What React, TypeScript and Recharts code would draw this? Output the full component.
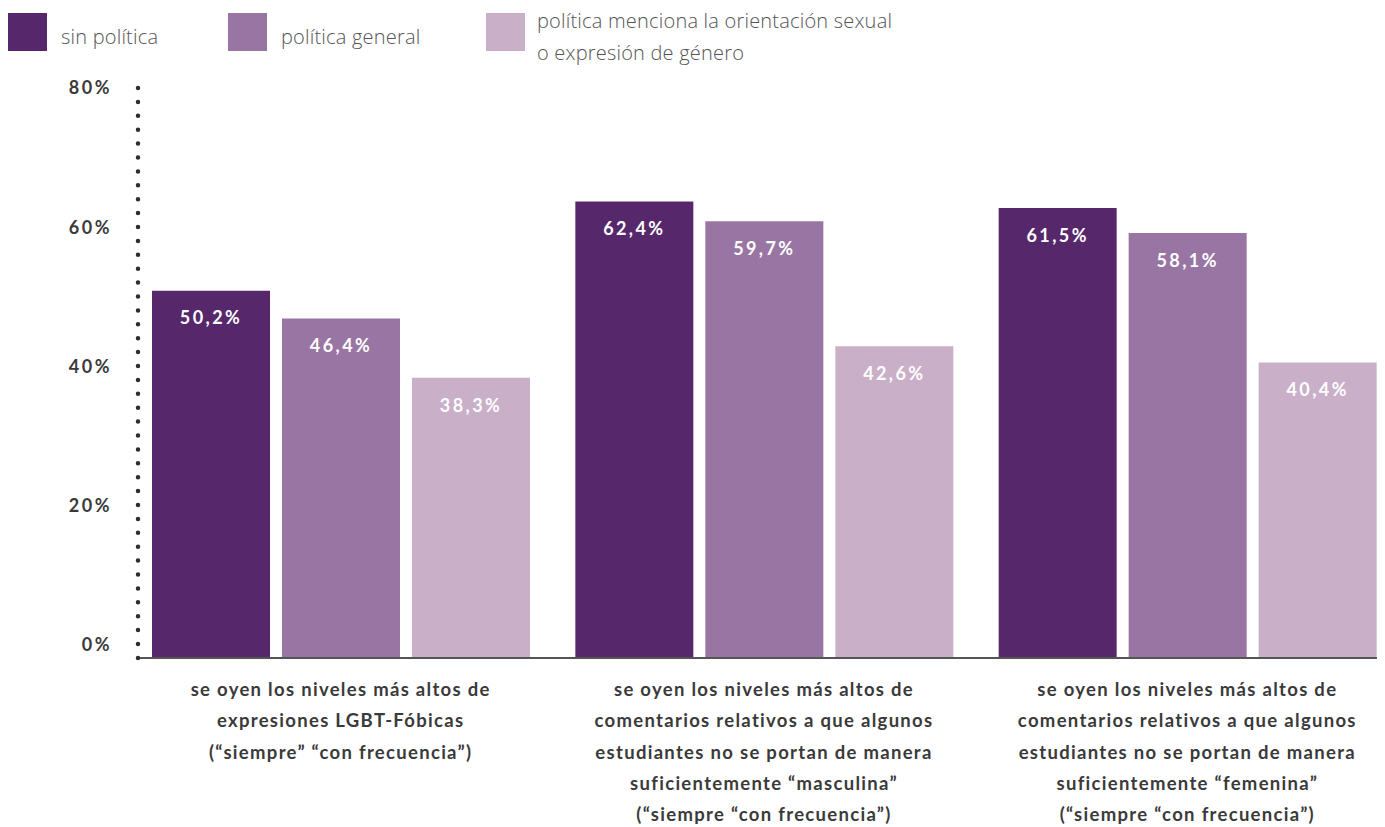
import React from "react";
import { BarChart, Bar, XAxis, YAxis, LabelList } from "recharts";

const categories = [
  "se oyen los niveles más altos de\nexpresiones LGBT-Fóbicas\n(“siempre” “con frecuencia”)",
  "se oyen los niveles más altos de\ncomentarios relativos a que algunos\nestudiantes no se portan de manera\nsuficientemente “masculina”\n(“siempre “con frecuencia”)",
  "se oyen los niveles más altos de\ncomentarios relativos a que algunos\nestudiantes no se portan de manera\nsuficientemente “femenina”\n(“siempre “con frecuencia”)",
];
const sinPolitica = [50.2, 62.4, 61.5];
const politicaGeneral = [46.4, 59.7, 58.1];
const politicaMenciona = [38.3, 42.6, 40.4];
const seriesNames = ["sin política", "política general", "política menciona la orientación sexual\no expresión de género"];
const colors = ["#56286b", "#9975a3", "#c9b0c8"];
const yTicks = [0, 20, 40, 60, 80];

const data = categories.map((c, i) => ({
  cat: c,
  a: sinPolitica[i],
  b: politicaGeneral[i],
  c: politicaMenciona[i],
}));

const FONT = "Lato, 'Open Sans', sans-serif";
const fmt = (v: number) => v.toFixed(1).replace(".", ",") + "%";

const CatTick = (props: any) => {
  const { x, y, payload } = props;
  const lines = String(payload.value).split("\n");
  return (
    <g>
      {lines.map((l: string, i: number) => (
        <text
          key={i}
          x={x}
          y={y + 31 + i * 31.3}
          textAnchor="middle"
          dominantBaseline="central"
          fill="#3a3a3a"
          fontFamily={FONT}
          fontWeight={700}
          fontSize={18.5}
          letterSpacing={1.3}
        >
          {l}
        </text>
      ))}
    </g>
  );
};

const legendPos = [
  { sq: 0, text: 53 },
  { sq: 220, text: 273 },
  { sq: 478, text: 529 },
];

export default function App() {
  return (
    <div style={{ position: "relative", width: 1369, height: 819, overflow: "hidden" }}>
      {seriesNames.map((n, i) => {
        const lines = n.split("\n");
        return (
          <React.Fragment key={i}>
            <div
              style={{
                position: "absolute",
                left: legendPos[i].sq,
                top: 5,
                width: 39,
                height: 38,
                background: colors[i],
              }}
            />
            <div
              style={{
                position: "absolute",
                left: legendPos[i].text,
                top: lines.length > 1 ? -3 : 13,
                fontFamily: "'Open Sans', sans-serif",
                fontWeight: 300,
                fontSize: 20,
                letterSpacing: 0.2,
                lineHeight: "32px",
                color: "#555",
                whiteSpace: "pre",
              }}
            >
              {n}
            </div>
          </React.Fragment>
        );
      })}
      <div style={{ position: "absolute", left: 0, top: 0 }}>
        <BarChart
          width={1400}
          height={819}
          data={data}
          margin={{ top: 80, right: 9, bottom: 19, left: 0 }}
          barGap={12}
          barSize={118}
        >
          <XAxis
            dataKey="cat"
            height={150}
            tick={<CatTick />}
            tickLine={false}
            tickSize={0}
            tickMargin={0}
            interval={0}
            padding={{ left: -9, right: 0 }}
            axisLine={{ stroke: "#555", strokeWidth: 2 }}
          />
          <YAxis
            yAxisId="ticks"
            width={130}
            domain={[-1.87, 80]}
            allowDataOverflow
            ticks={yTicks}
            interval={0}
            tickLine={false}
            tickSize={0}
            tickMargin={26}
            tickFormatter={(v: number) => `${v}%`}
            tick={{ fill: "#3a3a3a", fontFamily: FONT, fontWeight: 700, fontSize: 18, letterSpacing: 2.5 }}
            axisLine={{ stroke: "#2d2d2d", strokeWidth: 4.5, strokeDasharray: "0 13.9", strokeLinecap: "round" }}
          />
          <YAxis yAxisId="bars" domain={[0, 77.9]} hide width={0} allowDataOverflow />
          {(["a", "b", "c"] as const).map((k, i) => (
            <Bar key={k} yAxisId="bars" dataKey={k} fill={colors[i]} isAnimationActive={false}>
              <LabelList
                dataKey={k}
                position="insideTop"
                offset={21}
                formatter={(v: any) => fmt(Number(v))}
                fill="#ffffff"
                style={{ fontFamily: FONT, fontWeight: 700, fontSize: 18, letterSpacing: 2.4 }}
              />
            </Bar>
          ))}
        </BarChart>
      </div>
    </div>
  );
}
